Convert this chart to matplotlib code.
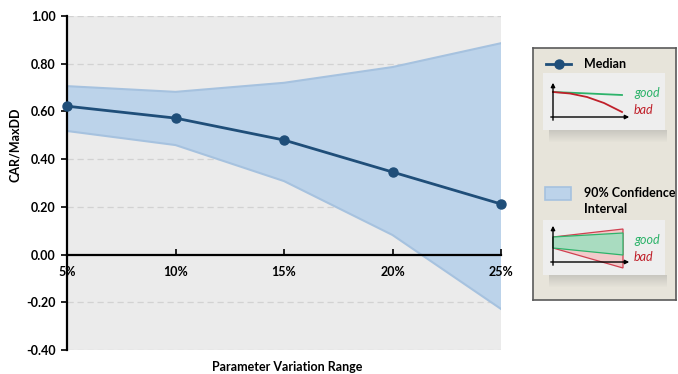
import matplotlib
matplotlib.use("Agg")
import matplotlib.pyplot as plt
from matplotlib.patches import Rectangle, Polygon
import numpy as np

plt.rcParams['font.family'] = ['Lato', 'DejaVu Sans']

# ---- data ----
x_labels = ["5%", "10%", "15%", "20%", "25%"]
x_vals = [5, 10, 15, 20, 25]
median = [0.622, 0.572, 0.480, 0.346, 0.212]
upper = [0.706, 0.682, 0.720, 0.786, 0.886]
lower = [0.518, 0.459, 0.308, 0.082, -0.228]
y_ticks = [-0.40, -0.20, 0.00, 0.20, 0.40, 0.60, 0.80, 1.00]

# legend sketch shapes (pixel units inside legend panel)
sk_x = [553, 570, 587, 604, 622]
sk_good = [92, 92.7, 93.4, 94.2, 95]
sk_bad = [92, 93.5, 97, 103, 112]

W, H = 678, 374
FS = 9
fig = plt.figure(figsize=(W / 100, H / 100), dpi=100)
fig.patch.set_facecolor('white')

ax = fig.add_axes([67 / W, 1 - 350 / H, (501 - 67) / W, (350 - 16) / H])
ax.set_facecolor('#ebebeb')
ax.set_xlim(5, 25)
ax.set_ylim(-0.40, 1.00)
ax.set_axisbelow(False)

for yt in y_ticks:
    if yt != 0:
        ax.axhline(yt, color='#d2d2d2', lw=0.9, ls=(0, (5, 3)), zorder=1)

ax.fill_between(x_vals, lower, upper, facecolor='#bcd3ea', edgecolor='none', zorder=2)
ax.plot(x_vals, upper, color='#a6c2df', lw=1.5, zorder=2)
ax.plot(x_vals, lower, color='#a6c2df', lw=1.5, zorder=2)
ax.plot(x_vals, median, color='#1f4e79', lw=2.0, marker='o', ms=6.5, zorder=4, clip_on=False)

ax.spines['top'].set_visible(False)
ax.spines['right'].set_visible(False)
ax.spines['left'].set_linewidth(1.6)
ax.spines['bottom'].set_position(('data', 0))
ax.spines['bottom'].set_linewidth(1.6)

ax.set_yticks(y_ticks)
ax.set_yticklabels([f"{v:.2f}" for v in y_ticks], fontsize=FS, fontweight='bold')
ax.tick_params(axis='y', direction='out', length=4, width=1.2, pad=4)
ax.set_xticks(x_vals)
ax.set_xticklabels(x_labels, fontsize=FS, fontweight='bold')
ax.tick_params(axis='x', direction='in', length=4, width=1.2, pad=8)

fig.text(15 / W, 1 - 145 / H, "CAR/MaxDD", rotation=90, ha='center', va='center',
         fontsize=FS, fontweight='bold')
fig.text(287 / W, 1 - 367 / H, "Parameter Variation Range", ha='center', va='center',
         fontsize=FS, fontweight='bold')

# ---- legend panel ----
lx0, lx1, ly0, ly1 = 533, 676, 48, 300
lg = fig.add_axes([lx0 / W, 1 - ly1 / H, (lx1 - lx0) / W, (ly1 - ly0) / H])
lg.set_xlim(lx0, lx1)
lg.set_ylim(ly1, ly0)
lg.set_facecolor('#e7e4da')
for s in lg.spines.values():
    s.set_color('#5a5a5a')
    s.set_linewidth(1.2)
lg.set_xticks([])
lg.set_yticks([])

# median entry
lg.plot([546, 571], [64, 64], color='#1f4e79', lw=2)
lg.plot([558.5], [64], 'o', color='#1f4e79', ms=6.5)
lg.text(584, 64, "Median", fontsize=FS, fontweight='bold', va='center', ha='left')

# CI entry
lg.add_patch(Rectangle((545, 187), 26, 13, facecolor='#bcd3ea', edgecolor='#a6c2df', lw=1.2))
lg.text(584, 193, "90% Confidence", fontsize=FS, fontweight='bold', va='center', ha='left')
lg.text(584, 209, "Interval", fontsize=FS, fontweight='bold', va='center', ha='left')


def shadow(x0, x1, y):
    for i in range(12):
        lg.add_patch(Rectangle((x0 + 6, y + i), x1 - x0 - 4, 1,
                               facecolor='#8a8a8a', alpha=0.32 * (1 - i / 12),
                               edgecolor='none'))


def axes_sketch(y_top, y_axis):
    lg.annotate('', xy=(553, y_top), xytext=(553, y_axis + 6),
                arrowprops=dict(arrowstyle='-|>', color='black', lw=1, mutation_scale=6))
    lg.annotate('', xy=(632, y_axis), xytext=(548, y_axis),
                arrowprops=dict(arrowstyle='-|>', color='black', lw=1, mutation_scale=6))


# inset 1
shadow(543, 665, 130)
lg.add_patch(Rectangle((543, 73), 122, 57, facecolor='#eeeeee', edgecolor='none'))
axes_sketch(80, 117)
lg.plot(sk_x, sk_good, color='#2db36a', lw=1.3)
lg.plot(sk_x, sk_bad, color='#c0202a', lw=1.3)
lg.text(634, 93, "good", color='#2db36a', style='italic', fontsize=FS, va='center')
lg.text(634, 110, "bad", color='#c0202a', style='italic', fontsize=FS, va='center')

# inset 2
shadow(543, 665, 275)
lg.add_patch(Rectangle((543, 220), 122, 55, facecolor='#eeeeee', edgecolor='none'))
lg.add_patch(Polygon([(553, 237), (623, 229), (623, 268), (553, 248)],
                     facecolor='#f2caca', edgecolor='#d04050', lw=0.9))
lg.add_patch(Polygon([(553, 237), (623, 233), (623, 255), (553, 248)],
                     facecolor='#a9dcc0', edgecolor='#2db36a', lw=0.9))
axes_sketch(223, 262)
lg.text(634, 240, "good", color='#2db36a', style='italic', fontsize=FS, va='center')
lg.text(634, 257, "bad", color='#c0202a', style='italic', fontsize=FS, va='center')

fig.savefig("out.png", dpi=100)
